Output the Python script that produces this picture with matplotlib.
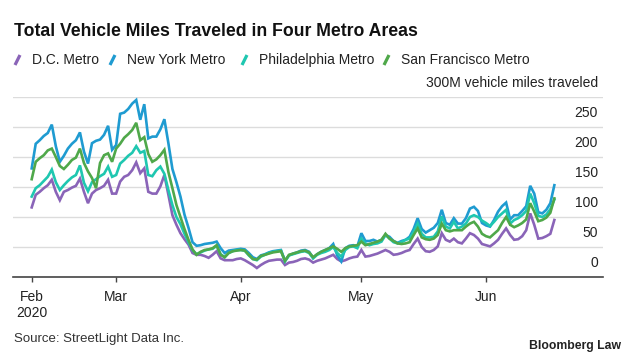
import matplotlib
matplotlib.use("Agg")
import matplotlib.pyplot as plt
import matplotlib.dates as mdates
from matplotlib.lines import Line2D
import pandas as pd

# daily vehicle miles traveled, millions, Feb 9 - Jun 18 2020
start = "2020-02-09"

dc_metro = [116, 137, 142, 148, 153, 162, 142, 128, 142, 145,
            149, 152, 164, 142, 123, 139, 145, 148, 152, 162,
            139, 139, 159, 167, 170, 178, 191, 173, 181, 142,
            139, 139, 151, 170, 137, 103, 87, 73, 63, 54,
            40, 37, 37, 35, 32, 37, 43, 31, 28, 28,
            28, 30, 31, 28, 24, 20, 15, 20, 24, 27,
            28, 29, 29, 20, 24, 25, 27, 30, 31, 29,
            24, 27, 29, 31, 34, 37, 30, 26, 28, 31,
            33, 34, 45, 34, 35, 37, 39, 42, 45, 42,
            37, 38, 40, 43, 45, 55, 64, 50, 43, 42,
            45, 51, 73, 62, 59, 64, 58, 56, 64, 73,
            70, 64, 55, 53, 51, 56, 62, 72, 81, 70,
            62, 63, 68, 78, 106, 87, 64, 65, 68, 72, 95]

ny_metro = [181, 222, 228, 235, 240, 254, 218, 192, 202, 214,
            222, 228, 241, 209, 189, 223, 227, 229, 237, 252,
            212, 220, 272, 274, 280, 289, 295, 262, 288, 231,
            234, 234, 246, 263, 223, 180, 158, 134, 104, 82,
            58, 52, 53, 55, 56, 57, 59, 48, 40, 44,
            45, 46, 47, 46, 40, 33, 30, 36, 38, 41,
            43, 44, 45, 27, 36, 39, 41, 44, 45, 42,
            32, 38, 42, 45, 48, 55, 36, 26, 48, 52,
            53, 51, 73, 60, 60, 62, 59, 62, 70, 67,
            60, 57, 60, 62, 67, 80, 98, 80, 74, 78,
            82, 90, 112, 90, 87, 98, 89, 89, 98, 114,
            117, 110, 90, 86, 84, 95, 109, 118, 124, 96,
            103, 103, 110, 118, 152, 139, 108, 106, 112, 123, 153]

phl_metro = [134, 148, 153, 160, 167, 179, 158, 145, 153, 160,
             166, 170, 186, 157, 143, 158, 163, 168, 172, 184,
             167, 170, 189, 195, 202, 207, 218, 207, 210, 170,
             168, 178, 184, 172, 145, 120, 100, 88, 72, 58,
             45, 38, 41, 44, 46, 47, 52, 38, 33, 40,
             43, 45, 45, 44, 36, 30, 28, 34, 37, 40,
             42, 43, 44, 26, 36, 38, 40, 42, 43, 40,
             31, 37, 40, 42, 45, 50, 40, 34, 45, 50,
             51, 48, 64, 56, 53, 55, 56, 59, 70, 64,
             58, 56, 58, 62, 64, 75, 89, 72, 66, 66,
             67, 76, 101, 84, 81, 92, 81, 84, 89, 100,
             103, 100, 94, 90, 85, 92, 100, 106, 112, 89,
             95, 98, 103, 110, 139, 123, 102, 100, 104, 113, 129]

sf_metro = [163, 192, 198, 203, 211, 214, 200, 185, 180, 187,
            195, 199, 214, 190, 176, 165, 148, 190, 203, 206,
            192, 214, 222, 232, 238, 245, 257, 228, 233, 205,
            192, 196, 203, 212, 175, 148, 120, 100, 80, 62,
            46, 37, 42, 45, 46, 48, 53, 37, 33, 40,
            43, 44, 45, 44, 37, 30, 29, 35, 37, 39,
            41, 42, 43, 27, 37, 39, 41, 43, 44, 41,
            33, 38, 42, 45, 48, 51, 47, 42, 48, 51,
            52, 53, 59, 53, 55, 57, 59, 62, 72, 64,
            60, 56, 55, 56, 58, 70, 81, 66, 63, 62,
            64, 70, 89, 78, 76, 78, 78, 78, 84, 89,
            92, 84, 72, 68, 66, 72, 78, 90, 100, 87,
            83, 86, 90, 96, 123, 109, 93, 95, 99, 107, 131]

names = ["D.C. Metro", "New York Metro", "Philadelphia Metro", "San Francisco Metro"]
series = [dc_metro, ny_metro, phl_metro, sf_metro]
colors = ["#8a64b8", "#1f9bd1", "#1fc7b0", "#4fa84a"]

y_ticks = [0, 50, 100, 150, 200, 250, 300]
y_labels = ["0", "50", "100", "150", "200", "250", "300M vehicle miles traveled"]
x_ticks = [start, "2020-03-01", "2020-04-01", "2020-05-01", "2020-06-01"]
x_labels = ["Feb\n2020", "Mar", "Apr", "May", "Jun"]

W, H = 633, 360
plt.rcParams["font.family"] = ["Liberation Sans", "DejaVu Sans"]
fig = plt.figure(figsize=(W / 100, H / 100), dpi=100)

ax = fig.add_axes([13 / W, 1 - 277 / H, (603 - 13) / W, 180 / H])
dates = pd.date_range(start, periods=len(ny_metro), freq="D")
for vals, c in zip(series, colors):
    ax.plot(dates, vals, color=c, lw=1.9, solid_joinstyle="miter", clip_on=False)

t0 = mdates.date2num(pd.Timestamp(start))
ax.set_xlim(t0 - 4.65, t0 + 142.1)
ax.set_ylim(0, 300)

ax.set_yticks(y_ticks)
ax.set_yticklabels([])
ax.tick_params(axis="y", length=0)
ax.grid(axis="y", color="#dcdcdc", lw=1)
ax.set_axisbelow(True)
for v, lab in zip(y_ticks, y_labels):
    ax.annotate(lab, xy=(1, v), xycoords=("axes fraction", "data"),
                xytext=(-5, 14), textcoords="offset pixels",
                ha="right", va="center", fontsize=10, color="#222222")

ax.set_xticks([mdates.date2num(pd.Timestamp(d)) for d in x_ticks])
ax.set_xticklabels(x_labels, fontsize=10, color="#222222", linespacing=1.15)
ax.tick_params(axis="x", length=3.5, width=1, color="#444444", pad=6)

for s in ["top", "right", "left"]:
    ax.spines[s].set_visible(False)
ax.spines["bottom"].set_color("#444444")
ax.spines["bottom"].set_linewidth(1.2)

fig.text(14 / W, 1 - 31 / H, "Total Vehicle Miles Traveled in Four Metro Areas",
         fontsize=12.7, fontweight="bold", color="#111111", va="center", ha="left")

# legend: slanted strokes + names
leg_x = [15, 110, 242, 384]
for x0, name, c in zip(leg_x, names, colors):
    fig.add_artist(Line2D([x0 / W, (x0 + 5) / W], [1 - 65 / H, 1 - 55 / H],
                          transform=fig.transFigure, color=c, lw=2.3,
                          solid_capstyle="butt"))
    fig.text((x0 + 17) / W, 1 - 60 / H, name, fontsize=10, color="#222222",
             va="center", ha="left")

fig.text(14 / W, 1 - 339 / H, "Source: StreetLight Data Inc.", fontsize=9.5,
         color="#333333", va="center", ha="left")
fig.text(621 / W, 1 - 346 / H, "Bloomberg Law", fontsize=8.8, fontweight="bold",
         color="#222222", va="center", ha="right")

fig.savefig("out.png", dpi=100)
